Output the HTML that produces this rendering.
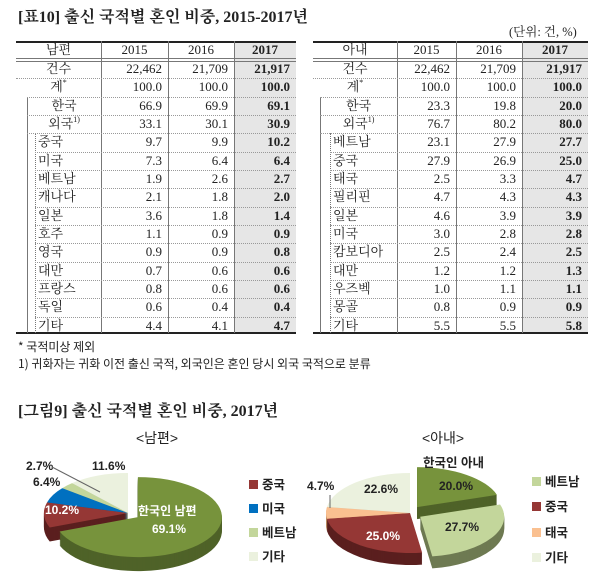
<!DOCTYPE html>
<html><head><meta charset="utf-8">
<style>
body{margin:0;width:600px;height:576px;background:#fff;position:relative;overflow:hidden;font-family:"Liberation Serif","Noto Serif CJK KR","Noto Serif CJK SC",serif;color:#222}
.a{position:absolute;white-space:nowrap}
.c{position:absolute;font-size:13px;line-height:18px;height:18px;white-space:nowrap}
.c sup{font-size:8px;line-height:0;vertical-align:6px}
.hl{position:absolute;height:0;border-top:1px dotted #999}
.vl{position:absolute;width:0;border-left:1px solid #777}
.sh{position:absolute;background:#e6e6e6}
.ss{font-family:"Liberation Sans","Noto Sans CJK KR",sans-serif;font-weight:bold}
</style></head><body>
<div class="a" style="left:18px;top:4px;font-size:16px;font-weight:bold">[표10] 출신 국적별 혼인 비중, 2015-2017년</div>
<div class="a" style="left:509px;top:22px;font-size:12.5px">(단위: 건, %)</div>
<div class="a" style="left:18px;top:338px;font-size:12px;font-family:'Noto Sans CJK KR',sans-serif">* 국적미상 제외</div>
<div class="a" style="left:18px;top:355px;font-size:12px;font-family:'Noto Sans CJK KR',sans-serif">1) 귀화자는 귀화 이전 출신 국적, 외국인은 혼인 당시 외국 국적으로 분류</div>
<div class="a" style="left:18px;top:398px;font-size:16px;font-weight:bold">[그림9] 출신 국적별 혼인 비중, 2017년</div>
<div class="a ss" style="left:136px;top:428px;font-size:14px;font-weight:normal">&lt;남편&gt;</div>
<div class="a ss" style="left:422px;top:428px;font-size:14px;font-weight:normal">&lt;아내&gt;</div>
<div id="t"></div>
<svg id="s" width="600" height="576" style="position:absolute;left:0;top:0"></svg>
<script>
var T=document.getElementById('t'),h='';
function tbl(x0,xs,xe,b1,b2,rows){
 var top=41,hd=17,rh=18.33;
 h+='<div class="sh" style="left:'+xs[2]+'px;top:'+top+'px;width:'+(xe-xs[2])+'px;height:'+(333-top)+'px"></div>';
 h+='<div class="a" style="left:'+x0+'px;top:'+top+'px;width:'+(xe-x0)+'px;border-top:2px solid #222"></div>';
 h+='<div class="a" style="left:'+x0+'px;top:'+(top+hd)+'px;width:'+(xe-x0)+'px;height:2px;border-top:1px solid #777;border-bottom:1px solid #777"></div>';
 h+='<div class="a" style="left:'+x0+'px;top:332px;width:'+(xe-x0)+'px;border-top:2px solid #222"></div>';
 xs.forEach(function(x){h+='<div class="vl" style="left:'+x+'px;top:'+top+'px;height:292px"></div>'});
 var y0=top+hd+2;
 h+='<div class="vl" style="left:'+b1+'px;top:'+(y0+2*rh)+'px;height:'+(333-y0-2*rh)+'px"></div>';
 h+='<div class="vl" style="left:'+b2+'px;top:'+(y0+4*rh)+'px;height:'+(333-y0-4*rh)+'px;border-left:1px dotted #777"></div>';
 rows.forEach(function(r,i){
  var y=i==0?top:y0+(i-1)*rh;
  if(i>1){var lx=i>=3?b1:x0;if(i>5)lx=b2;h+='<div class="hl" style="left:'+lx+'px;top:'+y+'px;width:'+(xe-lx)+'px"></div>';}
  var lbl=r[0];
  if(i<=4){var lx2=i>=3?b1:x0;h+='<div class="c" style="left:'+lx2+'px;width:'+(xs[0]-lx2)+'px;top:'+y+'px;text-align:center">'+lbl+'</div>';}
  else h+='<div class="c" style="left:'+(b2+3)+'px;top:'+y+'px">'+lbl+'</div>';
  for(var k=1;k<4;k++){var xr=k<3?xs[k]:xe;
   if(i==0)h+='<div class="c" style="left:'+xs[k-1]+'px;width:'+(xr-xs[k-1])+'px;top:'+y+'px;text-align:center;'+(k==3?'font-weight:bold':'')+'">'+r[k]+'</div>';
   else h+='<div class="c" style="left:'+xs[k-1]+'px;width:'+(xr-xs[k-1]-6)+'px;top:'+y+'px;text-align:right;'+(k==3?'font-weight:bold':'')+'">'+r[k]+'</div>';}
 });
}
var L=[['남편','2015','2016','2017'],['건수','22,462','21,709','21,917'],['계<sup>*</sup>','100.0','100.0','100.0'],['한국','66.9','69.9','69.1'],['외국<sup>1)</sup>','33.1','30.1','30.9'],['중국','9.7','9.9','10.2'],['미국','7.3','6.4','6.4'],['베트남','1.9','2.6','2.7'],['캐나다','2.1','1.8','2.0'],['일본','3.6','1.8','1.4'],['호주','1.1','0.9','0.9'],['영국','0.9','0.9','0.8'],['대만','0.7','0.6','0.6'],['프랑스','0.8','0.6','0.6'],['독일','0.6','0.4','0.4'],['기타','4.4','4.1','4.7']];
var R=[['아내','2015','2016','2017'],['건수','22,462','21,709','21,917'],['계<sup>*</sup>','100.0','100.0','100.0'],['한국','23.3','19.8','20.0'],['외국<sup>1)</sup>','76.7','80.2','80.0'],['베트남','23.1','27.9','27.7'],['중국','27.9','26.9','25.0'],['태국','2.5','3.3','4.7'],['필리핀','4.7','4.3','4.3'],['일본','4.6','3.9','3.9'],['미국','3.0','2.8','2.8'],['캄보디아','2.5','2.4','2.5'],['대만','1.2','1.2','1.3'],['우즈벡','1.0','1.1','1.1'],['몽골','0.8','0.9','0.9'],['기타','5.5','5.5','5.8']];
tbl(16,[101,168,234],296,27,35,L);
tbl(313,[397,456,522],588,320,330,R);
T.innerHTML=h;
var S=document.getElementById('s'),g='';
function pt(cx,cy,rx,ry,a){a=a*Math.PI/180;return [cx+rx*Math.sin(a),cy-ry*Math.cos(a)];}
function sl(cx,cy,rx,ry,a0,a1,col){var p0=pt(cx,cy,rx,ry,a0),p1=pt(cx,cy,rx,ry,a1);
 return '<path d="M'+cx+','+cy+' L'+p0[0]+','+p0[1]+' A'+rx+','+ry+' 0 '+((a1-a0)>180?1:0)+' 1 '+p1[0]+','+p1[1]+' Z" fill="'+col+'"/>';}
function pie(cx,cy,rx,ry,d,data){
 var a=0,segs=[];
 data.forEach(function(s){var a1=a+s[0]*3.6;var m=(a+a1)/2*Math.PI/180;segs.push([cx+s[3]*Math.sin(m),cy-s[3]*Math.cos(m)*0.6,a,a1,s[1],s[2]]);a=a1;});
 for(var k=d;k>0;k--)segs.forEach(function(s){g+=sl(s[0],s[1]+k,rx,ry,s[2],s[3],s[5]);});
 segs.forEach(function(s){g+=sl(s[0],s[1],rx,ry,s[2],s[3],s[4]);});
}
pie(128,513,84,40,14,[[69.1,'#77933C','#4f6228',12],[10.2,'#953735','#5a1f1e',0],[6.4,'#0070C0','#004a80',0],[2.7,'#C3D69B','#8a9a66',0],[11.6,'#EBF1DE','#b8bda8',0]]);
pie(410,513,84,40,12,[[20,'#77933C','#4f6228',12],[27.7,'#C3D69B','#6e7a52',12],[25,'#953735','#5a1f1e',0],[4.7,'#FAC090','#b98a60',0],[22.6,'#EBF1DE','#b8bda8',0]]);
function tx(x,y,t,c,sz){g+='<text x="'+x+'" y="'+y+'" fill="'+c+'" font-size="'+(sz||12)+'" font-weight="bold" font-family="Liberation Sans,Noto Sans CJK KR,sans-serif">'+t+'</text>';}
tx(138,515,'한국인 남편','#fff');tx(152,533,'69.1%','#fff');
tx(45,514,'10.2%','#fff');tx(33,486,'6.4%','#222');tx(26,470,'2.7%','#222');tx(92,470,'11.6%','#222');
g+='<line x1="52" y1="467" x2="100" y2="492" stroke="#666"/>';
tx(423,467,'한국인 아내','#222',12.5);tx(439,490,'20.0%','#222');tx(445,531,'27.7%','#222');tx(366,540,'25.0%','#fff');tx(364,493,'22.6%','#222');tx(307,490,'4.7%','#222');
g+='<line x1="330" y1="495" x2="330" y2="508" stroke="#666"/>';
function lg(x,y,c,t){g+='<rect x="'+x+'" y="'+(y-9)+'" width="9" height="9" fill="'+c+'"/>';tx(x+13,y,t,'#222',12.5);}
lg(249,489,'#953735','중국');lg(249,513,'#0070C0','미국');lg(249,537,'#C3D69B','베트남');lg(249,561,'#EBF1DE','기타');
lg(532,486,'#C3D69B','베트남');lg(532,511,'#953735','중국');lg(532,537,'#FAC090','태국');lg(532,562,'#EBF1DE','기타');
S.innerHTML=g;
</script>
</body></html>
